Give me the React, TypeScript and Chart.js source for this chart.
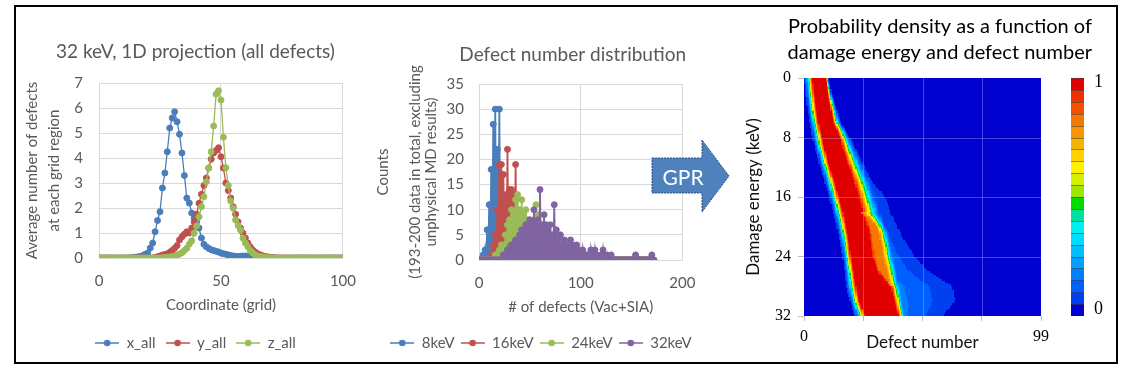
import React, { useEffect, useRef } from 'react';
import { Chart, registerables } from 'chart.js';

Chart.register(...registerables);
Chart.defaults.font.family = 'Lato, "Open Sans", sans-serif';

// ---------------- Panel 1: 1D projection (coordinate = index 0..100) ----------------
const X_ALL = [
  0, 0, 0, 0, 0, 0, 0, 0, 0, 0,
  0, 0, 0, 0.01, 0.02, 0.03, 0.05, 0.06, 0.1, 0.15,
  0.2, 0.4, 0.6, 1.05, 1.5, 1.85, 2.8, 3.4, 4.25, 5.2,
  5.6, 5.85, 5.45, 4.95, 4.2, 3.3, 2.4, 2.2, 1.8, 1.6,
  1.45, 1.2, 0.8, 0.55, 0.45, 0.38, 0.33, 0.3, 0.27, 0.24,
  0.2, 0.17, 0.15, 0.12, 0.1, 0.08, 0.07, 0.06, 0.07, 0.08,
  0.08, 0.07, 0.05, 0.04, 0.03, 0.02, 0.02, 0.01, 0, 0,
  0, 0, 0, 0, 0, 0, 0, 0, 0, 0,
  0, 0, 0, 0, 0, 0, 0, 0, 0, 0,
  0, 0, 0, 0, 0, 0, 0, 0, 0, 0,
  0,
];
const Y_ALL = [
  0, 0, 0, 0, 0, 0, 0, 0, 0, 0,
  0, 0, 0, 0, 0, 0, 0, 0, 0, 0,
  0, 0, 0, 0.02, 0.05, 0.08, 0.12, 0.14, 0.17, 0.23,
  0.3, 0.39, 0.5, 0.72, 0.85, 0.95, 1.05, 1.0, 1.2, 1.45,
  1.75, 2.19, 2.55, 2.9, 3.2, 3.6, 3.95, 4.2, 4.3, 4.41,
  4.05, 3.6, 3.0, 2.7, 2.4, 2.05, 1.75, 1.45, 1.2, 1.0,
  0.8, 0.6, 0.45, 0.32, 0.24, 0.17, 0.13, 0.09, 0.06, 0.05,
  0.03, 0.02, 0.01, 0, 0, 0, 0, 0, 0, 0,
  0, 0, 0, 0, 0, 0, 0, 0, 0, 0,
  0, 0, 0, 0, 0, 0, 0, 0, 0, 0,
  0,
];
const Z_ALL = [
  0, 0, 0, 0, 0, 0, 0, 0, 0, 0,
  0, 0, 0, 0, 0, 0, 0, 0, 0, 0,
  0, 0, 0, 0, 0, 0, 0.01, 0.02, 0.03, 0.04,
  0.06, 0.08, 0.12, 0.16, 0.21, 0.3, 0.39, 0.55, 0.69, 0.99,
  1.28, 1.65, 2.05, 2.45, 3.05, 3.6, 4.25, 5.28, 6.55, 6.69,
  6.32, 4.83, 3.61, 2.9, 2.28, 1.99, 1.52, 1.3, 1.12, 0.79,
  0.6, 0.45, 0.3, 0.2, 0.12, 0.08, 0.06, 0.04, 0.03, 0.02,
  0.01, 0, 0, 0, 0, 0, 0, 0, 0, 0,
  0, 0, 0, 0, 0, 0, 0, 0, 0, 0,
  0, 0, 0, 0, 0, 0, 0, 0, 0, 0,
  0,
];

// ---------------- Panel 2: defect number distribution (defect number = index 0..172) ----------------
const TITLE_B = 'Defect number distribution';
const C_8KEV = [
  0, 0, 0, 0, 1, 0, 2, 0, 6, 0, 11, 0, 18, 0, 27, 0, 30, 0, 22, 0,
  30, 0, 13, 0, 5, 0, 2, 0, 1, 0, 0, 0, 0, 0, 0, 0, 0, 0, 0, 0,
  0, 0, 0, 0, 0, 0, 0, 0, 0, 0, 0, 0, 0, 0, 0, 0, 0, 0, 0, 0,
  0, 0, 0, 0, 0, 0, 0, 0, 0, 0, 0, 0, 0, 0, 0, 0, 0, 0, 0, 0,
  0, 0, 0, 0, 0, 0, 0, 0, 0, 0, 0, 0, 0, 0, 0, 0, 0, 0, 0, 0,
  0, 0, 0, 0, 0, 0, 0, 0, 0, 0, 0, 0, 0, 0, 0, 0, 0, 0, 0, 0,
  0, 0, 0, 0, 0, 0, 0, 0, 0, 0, 0, 0, 0, 0, 0, 0, 0, 0, 0, 0,
  0, 0, 0, 0, 0, 0, 0, 0, 0, 0, 0, 0, 0, 0, 0, 0, 0, 0, 0, 0,
  0, 0, 0, 0, 0, 0, 0, 0, 0, 0, 0, 0, 0,
];
const C_16KEV = [
  0, 0, 0, 0, 0, 0, 0, 0, 0, 0, 0, 0, 1, 0, 3, 0, 5, 0, 10, 0,
  19, 0, 19, 0, 17, 0, 13, 0, 22, 0, 14, 0, 14, 0, 13, 0, 19, 0, 10, 0,
  8, 0, 5, 0, 3, 0, 2, 0, 1, 0, 0, 0, 0, 0, 0, 0, 0, 0, 0, 0,
  0, 0, 0, 0, 0, 0, 0, 0, 0, 0, 0, 0, 0, 0, 0, 0, 0, 0, 0, 0,
  0, 0, 0, 0, 0, 0, 0, 0, 0, 0, 0, 0, 0, 0, 0, 0, 0, 0, 0, 0,
  0, 0, 0, 0, 0, 0, 0, 0, 0, 0, 0, 0, 0, 0, 0, 0, 0, 0, 0, 0,
  0, 0, 0, 0, 0, 0, 0, 0, 0, 0, 0, 0, 0, 0, 0, 0, 0, 0, 0, 0,
  0, 0, 0, 0, 0, 0, 0, 0, 0, 0, 0, 0, 0, 0, 0, 0, 0, 0, 0, 0,
  0, 0, 0, 0, 0, 0, 0, 0, 0, 0, 0, 0, 0,
];
const C_24KEV = [
  0, 0, 0, 0, 0, 0, 0, 0, 0, 0, 0, 0, 0, 0, 0, 0, 1, 0, 1, 0,
  2, 0, 3, 0, 3, 0, 5, 0, 7, 0, 8, 0, 10, 0, 9, 0, 12, 0, 13, 0,
  10, 0, 12, 0, 9, 0, 10, 0, 8, 0, 7, 0, 6, 0, 8, 0, 11, 0, 9, 0,
  7, 0, 5, 0, 4, 0, 3, 0, 2, 0, 2, 0, 1, 0, 1, 0, 0, 0, 0, 0,
  0, 0, 0, 0, 0, 0, 0, 0, 0, 0, 0, 0, 0, 0, 0, 0, 0, 0, 0, 0,
  0, 0, 0, 0, 0, 0, 0, 0, 0, 0, 0, 0, 0, 0, 0, 0, 0, 0, 0, 0,
  0, 0, 0, 0, 0, 0, 0, 0, 0, 0, 0, 0, 0, 0, 0, 0, 0, 0, 0, 0,
  0, 0, 0, 0, 0, 0, 0, 0, 0, 0, 0, 0, 0, 0, 0, 0, 0, 0, 0, 0,
  0, 0, 0, 0, 0, 0, 0, 0, 0, 0, 0, 0, 0,
];
const C_32KEV = [
  0, 0, 0, 0, 0, 0, 0, 0, 0, 0, 0, 0, 0, 0, 0, 0, 0, 0, 0, 0,
  0, 0, 0, 0, 1, 0, 1, 0, 2, 0, 2, 0, 3, 0, 3, 0, 4, 0, 4, 0,
  5, 0, 6, 0, 6, 0, 7, 0, 7, 0, 8, 0, 7, 0, 10, 0, 7, 0, 8, 0,
  14, 0, 7, 0, 9, 0, 7, 0, 6, 0, 7, 0, 5, 0, 11, 0, 6, 0, 4, 0,
  5, 0, 3, 0, 4, 0, 3, 0, 2, 0, 4, 0, 3, 0, 2, 0, 3, 0, 2, 0,
  1, 0, 2, 0, 1, 0, 1, 0, 0, 0, 2, 0, 1, 0, 2, 0, 1, 0, 0, 0,
  1, 0, 2, 0, 1, 0, 1, 0, 0, 0, 1, 0, 0, 0, 0, 0, 0, 0, 0, 0,
  0, 0, 0, 0, 0, 0, 0, 0, 0, 0, 0, 0, 0, 0, 1, 0, 0, 0, 0, 0,
  0, 0, 0, 0, 0, 0, 0, 0, 0, 0, 1, 0, 0,
];

// ---------------- Panel 3: GPR probability density ridge (per damage-energy row) ----------------
const E_ROWS = [0, 2, 4, 6, 8, 10, 12, 14, 16, 18, 20, 22, 24, 26, 28, 30, 32];
const RIDGE_OUTER_L = [0, 0.6, 1.3, 2.3, 3.4, 5.0, 6.8, 8.6, 10.4, 12.0, 13.6, 14.9, 16.0, 16.8, 17.5, 19.2, 21.0];
const RIDGE_RED_L = [4.0, 4.7, 5.5, 6.6, 8.2, 9.6, 11.3, 13.4, 15.1, 16.8, 18.2, 19.4, 20.1, 21.3, 22.4, 23.5, 26.3];
const RIDGE_RED_R = [8.8, 9.6, 10.6, 11.7, 14.3, 15.8, 17.9, 20.0, 22.0, 23.6, 26.0, 27.2, 28.0, 30.0, 35.5, 37.2, 38.8];
const RIDGE_SHOULDER_R = [8.8, 9.6, 10.6, 11.7, 14.3, 15.8, 17.9, 20.0, 22.0, 23.6, 30.0, 31.5, 32.5, 34.0, 35.5, 37.2, 38.8];
const RIDGE_OUTER_R = [10.3, 11.5, 13.5, 15.5, 19.5, 22.5, 25.5, 28.5, 30.5, 32.5, 34.8, 36.9, 38.3, 39.7, 41.0, 42.0, 43.1];
const TAIL_END = [10.3, 11.5, 13.5, 15.5, 19.5, 22.5, 25.5, 28.5, 34, 36, 39, 42, 46, 52, 62, 63, 58];
const HEAT_X_GRID = [0, 24.75, 49.5, 74.25, 99];
const COLORBAR_LABELS = ['0', '1'];
const PALETTE = [
  '#0000D0', '#0040F0', '#0060FF', '#0080FF', '#00A0FF',
  '#00BEFF', '#00DCFF', '#00F0F0', '#00E0A0', '#00DC00',
  '#A0E600', '#D2F000', '#FFF000', '#FFD200', '#F5B400',
  '#F59600', '#F57800', '#F55000', '#F03000', '#E00000',
];

const GREY = '#595959';
const GRID = '#D9D9D9';
const BLUE = '#4A7EBB';
const RED = '#C0504D';
const GREEN = '#9BBB59';
const PURPLE = '#8064A2';
const SERIF = '"Liberation Serif", "DejaVu Serif", serif';
const SANS = 'Lato, "Open Sans", sans-serif';

function legendIcon(color: string): HTMLCanvasElement {
  const c = document.createElement('canvas');
  c.width = 24;
  c.height = 10;
  const g = c.getContext('2d')!;
  g.strokeStyle = color;
  g.lineWidth = 1.5;
  g.beginPath();
  g.moveTo(0, 5);
  g.lineTo(24, 5);
  g.stroke();
  g.fillStyle = color;
  g.beginPath();
  g.arc(12, 5, 3.3, 0, Math.PI * 2);
  g.fill();
  return c;
}

function legendOpts(padding: number) {
  return {
    position: 'bottom',
    labels: {
      usePointStyle: true,
      pointStyleWidth: 24,
      padding,
      color: GREY,
      font: { size: 15 },
      generateLabels: (chart: any) =>
        chart.data.datasets.map((ds: any, i: number) => ({
          text: ds.label,
          datasetIndex: i,
          hidden: false,
          lineWidth: 0,
          strokeStyle: ds.borderColor,
          fillStyle: ds.borderColor,
          pointStyle: legendIcon(ds.borderColor),
          fontColor: GREY,
        })),
    },
  };
}

function series(label: string, ys: number[], color: string, order: number, lineWidth: number) {
  return {
    label,
    data: ys.map((y, i) => ({ x: i, y })),
    showLine: true,
    borderColor: color,
    backgroundColor: color,
    pointBackgroundColor: color,
    pointBorderColor: color,
    borderWidth: lineWidth,
    pointRadius: 3,
    pointBorderWidth: 1,
    order,
  };
}

// invisible right-hand spacer axis so that legends can use the full canvas width
function spacerAxis(width: number) {
  return {
    type: 'linear',
    position: 'right',
    min: 0,
    max: 1,
    ticks: { display: false },
    grid: { display: false, drawTicks: false },
    border: { display: false },
    afterFit: (s: any) => { s.width = width; },
  };
}

// chart title of panel 2, centred slightly left of the plot area as in the original
const titleBPlugin = {
  id: 'titleB',
  afterDraw(chart: any) {
    const ctx = chart.ctx;
    const area = chart.chartArea;
    ctx.save();
    ctx.font = `19px ${SANS}`;
    ctx.fillStyle = GREY;
    ctx.textAlign = 'center';
    ctx.textBaseline = 'middle';
    ctx.fillText(TITLE_B, (area.left + area.right) / 2 - 8, area.top - 29);
    ctx.restore();
  },
};

function lerpRow(arr: number[], e: number) {
  const i = Math.min(E_ROWS.length - 2, Math.floor(e / 2));
  const t = (e - E_ROWS[i]) / (E_ROWS[i + 1] - E_ROWS[i]);
  return arr[i] + (arr[i + 1] - arr[i]) * t;
}

function density(e: number, d: number) {
  const oL = lerpRow(RIDGE_OUTER_L, e);
  const rL = lerpRow(RIDGE_RED_L, e);
  const rR = lerpRow(RIDGE_RED_R, e);
  const sh = lerpRow(RIDGE_SHOULDER_R, e);
  const oR = lerpRow(RIDGE_OUTER_R, e);
  const tE = lerpRow(TAIL_END, e);
  if (d < rL) {
    const s = Math.max(0.2, (rL - oL) / 1.731);
    return Math.exp(-(((rL - d) / s) ** 2));
  }
  if (d <= rR) return 1;
  let v: number;
  if (sh > rR + 0.1) {
    if (d <= sh) v = 0.82 + 0.18 * Math.exp(-(((d - rR) / 1.2) ** 2));
    else {
      const s = Math.max(0.2, (oR - sh) / 1.673);
      v = 0.82 * Math.exp(-(((d - sh) / s) ** 2));
    }
  } else {
    const s = Math.max(0.2, (oR - rR) / 1.731);
    v = Math.exp(-(((d - rR) / s) ** 2));
  }
  if (tE > oR) {
    const tw = (tE - rR) / 1.078;
    v = Math.max(v, 0.16 * Math.exp(-(((d - rR) / tw) ** 2)));
  }
  return v;
}

const heatPlugin = {
  id: 'heatmap',
  beforeDatasetsDraw(chart: any) {
    const ctx = chart.ctx;
    const xs = chart.scales.x;
    const ys = chart.scales.y;
    const y2 = chart.scales.y2;
    const area = chart.chartArea;
    ctx.save();
    const stepD = 0.5;
    const stepE = 0.25;
    for (let e = 0; e < 32 - 1e-9; e += stepE) {
      const yA = Math.round(ys.getPixelForValue(e));
      const yB = Math.round(ys.getPixelForValue(e + stepE));
      for (let d = 0; d < 99 - 1e-9; d += stepD) {
        const v = density(e + stepE / 2, d + stepD / 2);
        const lvl = Math.max(0, Math.min(19, Math.floor(v * 20)));
        const xA = Math.round(xs.getPixelForValue(d));
        const xB = Math.round(xs.getPixelForValue(Math.min(99, d + stepD)));
        ctx.fillStyle = PALETTE[lvl];
        ctx.fillRect(xA, Math.min(yA, yB), xB - xA, Math.abs(yB - yA));
      }
    }
    // faint grid over the map
    ctx.strokeStyle = 'rgba(190,190,255,0.35)';
    ctx.lineWidth = 1;
    HEAT_X_GRID.slice(1, -1).forEach((v) => {
      const px = Math.round(xs.getPixelForValue(v)) + 0.5;
      ctx.beginPath();
      ctx.moveTo(px, area.top);
      ctx.lineTo(px, area.bottom);
      ctx.stroke();
    });
    [8, 16, 24].forEach((v) => {
      const py = Math.round(ys.getPixelForValue(v)) + 0.5;
      ctx.beginPath();
      ctx.moveTo(area.left, py);
      ctx.lineTo(area.right, py);
      ctx.stroke();
    });
    // colour bar
    const bx = area.right + 30;
    const bw = 13;
    for (let i = 0; i < 20; i++) {
      const top = Math.round(y2.getPixelForValue((i + 1) / 20));
      const bot = Math.round(y2.getPixelForValue(i / 20));
      ctx.fillStyle = PALETTE[i];
      ctx.fillRect(bx, top, bw, bot - top);
      ctx.strokeStyle = 'rgba(60,60,60,0.55)';
      ctx.beginPath();
      ctx.moveTo(bx, top + 0.5);
      ctx.lineTo(bx + bw, top + 0.5);
      ctx.stroke();
    }
    ctx.fillStyle = '#000';
    ctx.font = `18px ${SERIF}`;
    ctx.textAlign = 'left';
    ctx.textBaseline = 'middle';
    ctx.fillText(COLORBAR_LABELS[1], area.right + 53, y2.getPixelForValue(1) + 4);
    ctx.fillText(COLORBAR_LABELS[0], area.right + 53, y2.getPixelForValue(0) - 7);
    ctx.restore();
  },
};

export default function App() {
  const aRef = useRef<HTMLCanvasElement>(null);
  const bRef = useRef<HTMLCanvasElement>(null);
  const cRef = useRef<HTMLCanvasElement>(null);

  useEffect(() => {
    const tickFont = { size: 15 };
    const chartA = new Chart(aRef.current!, {
      type: 'scatter',
      data: {
        datasets: [
          series('x_all', X_ALL, BLUE, 2, 1.3),
          series('y_all', Y_ALL, RED, 1, 1.3),
          series('z_all', Z_ALL, GREEN, 0, 1.3),
        ],
      },
      options: {
        responsive: false,
        animation: false,
        devicePixelRatio: 1,
        layout: { padding: { left: 4, right: 0, top: 0, bottom: 0.5 } },
        plugins: {
          title: {
            display: true,
            text: '32 keV, 1D projection (all defects)',
            color: GREY,
            font: { size: 19, weight: 'normal' },
            padding: { top: 33.6, bottom: 19.6 },
          },
          legend: legendOpts(10),
          tooltip: { enabled: false },
        },
        scales: {
          x: {
            type: 'linear',
            min: 0,
            max: 100,
            ticks: { stepSize: 50, padding: 14, color: GREY, font: tickFont, maxRotation: 0 },
            grid: { color: GRID, drawTicks: false },
            border: { color: GRID },
            title: { display: true, text: 'Coordinate (grid)', color: GREY, font: { size: 15 }, padding: { top: 0, bottom: 11.5 } },
            afterFit: (s: any) => { s.height = 67.5; },
          },
          y: {
            type: 'linear',
            min: 0,
            max: 7,
            ticks: { stepSize: 1, padding: 16, color: GREY, font: tickFont },
            grid: { color: GRID, drawTicks: false },
            border: { color: GRID },
            title: {
              display: true,
              text: ['Average number of defects', 'at each grid region'],
              color: GREY,
              font: { size: 15, lineHeight: 22 / 15 },
              padding: { top: 0, bottom: 0 },
            },
            afterFit: (s: any) => { s.width = 78; },
          },
          r: spacerAxis(22),
        },
      } as any,
    } as any);

    const chartB = new Chart(bRef.current!, {
      type: 'scatter',
      data: {
        datasets: [
          series('8keV', C_8KEV, BLUE, 3, 1.8),
          series('16keV', C_16KEV, RED, 2, 1.8),
          series('24keV', C_24KEV, GREEN, 1, 1.8),
          series('32keV', C_32KEV, PURPLE, 0, 1.8),
        ],
      },
      plugins: [titleBPlugin],
      options: {
        responsive: false,
        animation: false,
        devicePixelRatio: 1,
        layout: { padding: { left: 0, right: 0, top: 77, bottom: 0.5 } },
        plugins: {
          title: { display: false },
          legend: legendOpts(6),
          tooltip: { enabled: false },
        },
        scales: {
          x: {
            type: 'linear',
            min: 0,
            max: 200,
            ticks: { stepSize: 100, padding: 14.6, color: GREY, font: tickFont, maxRotation: 0 },
            grid: { color: GRID, drawTicks: false },
            border: { color: GRID },
            title: { display: true, text: '# of defects (Vac+SIA)', color: GREY, font: { size: 15 }, padding: { top: 0, bottom: 13.5 } },
            afterFit: (s: any) => { s.height = 69.5; },
          },
          y: {
            type: 'linear',
            min: 0,
            max: 35,
            ticks: { stepSize: 5, padding: 15, color: GREY, font: tickFont },
            grid: { color: GRID, drawTicks: false },
            border: { color: GRID },
            title: {
              display: true,
              text: ['Counts', '', '(193-200 data in total, excluding', 'unphysical MD results)'],
              color: GREY,
              font: { size: 15, lineHeight: 16 / 15 },
              padding: { top: 3, bottom: 0 },
            },
            afterFit: (s: any) => { s.width = 107; },
          },
          r: spacerAxis(23),
        },
      } as any,
    } as any);

    const chartC = new Chart(cRef.current!, {
      type: 'scatter',
      data: { datasets: [] },
      plugins: [heatPlugin],
      options: {
        responsive: false,
        animation: false,
        devicePixelRatio: 1,
        layout: { padding: { left: 0, right: 23, top: 0, bottom: 0 } },
        plugins: {
          title: {
            display: true,
            text: ['Probability density as a function of', 'damage energy and defect number'],
            color: '#000',
            align: 'end',
            font: { size: 20, weight: 'normal', lineHeight: 1.3 },
            padding: { top: 7, bottom: 12 },
          },
          legend: { display: false },
          tooltip: { enabled: false },
        },
        scales: {
          x: {
            type: 'linear',
            min: 0,
            max: 99,
            afterBuildTicks: (s: any) => { s.ticks = HEAT_X_GRID.map((v) => ({ value: v })); },
            ticks: {
              padding: 6,
              color: '#000',
              font: { family: SERIF, size: 16 },
              maxRotation: 0,
              autoSkip: false,
              callback: (v: any) => (v === 0 || v === 99 ? String(v) : ''),
            },
            grid: { drawOnChartArea: false, drawTicks: true, tickLength: 5, color: '#BFBFBF' },
            border: { display: false },
            title: { display: true, text: 'Defect number', color: '#111', font: { size: 17 }, padding: { top: 0, bottom: 7.8 } },
            afterFit: (s: any) => { s.height = 45; },
          },
          y: {
            type: 'linear',
            min: 0,
            max: 32,
            reverse: true,
            ticks: { stepSize: 8, padding: 7, color: '#000', font: { family: SERIF, size: 16 } },
            grid: { drawOnChartArea: false, drawTicks: true, tickLength: 6, color: '#BFBFBF' },
            border: { display: false },
            title: { display: true, text: 'Damage energy (keV)', color: '#111', font: { size: 17 }, padding: { top: 41, bottom: 0 } },
            afterFit: (s: any) => { s.width = 102; },
          },
          y2: {
            type: 'linear',
            position: 'right',
            min: 0,
            max: 1,
            ticks: { display: false },
            grid: { display: false, drawTicks: false },
            border: { display: false },
            afterFit: (s: any) => { s.width = 51; },
          },
        },
      } as any,
    } as any);

    return () => {
      chartA.destroy();
      chartB.destroy();
      chartC.destroy();
    };
  }, []);

  return (
    <div style={{ position: 'absolute', left: 0, top: 0, width: 1129, height: 368, background: '#fff', overflow: 'hidden' }}>
      <div
        style={{
          position: 'absolute', left: 14, top: 5, width: 1104, height: 359,
          border: '2px solid #000', boxSizing: 'border-box',
        }}
      />
      <canvas ref={aRef} width={353} height={354} style={{ position: 'absolute', left: 17, top: 7, display: 'block' }} />
      <canvas ref={bRef} width={338} height={354} style={{ position: 'absolute', left: 372, top: 7, display: 'block' }} />
      <canvas ref={cRef} width={413} height={354} style={{ position: 'absolute', left: 702, top: 7, display: 'block' }} />
      <svg width={1129} height={368} style={{ position: 'absolute', left: 0, top: 0, pointerEvents: 'none' }}>
        <polygon
          points="652,158 702,158 702,140 729,176 702,212 702,193 652,193"
          fill="#4F81BD"
          stroke="#2F4F7A"
          strokeWidth={1}
          strokeDasharray="2 1"
        />
        <text x={683} y={185} fill="#fff" fontFamily="Lato, sans-serif" fontSize={21} textAnchor="middle">GPR</text>
      </svg>
    </div>
  );
}
